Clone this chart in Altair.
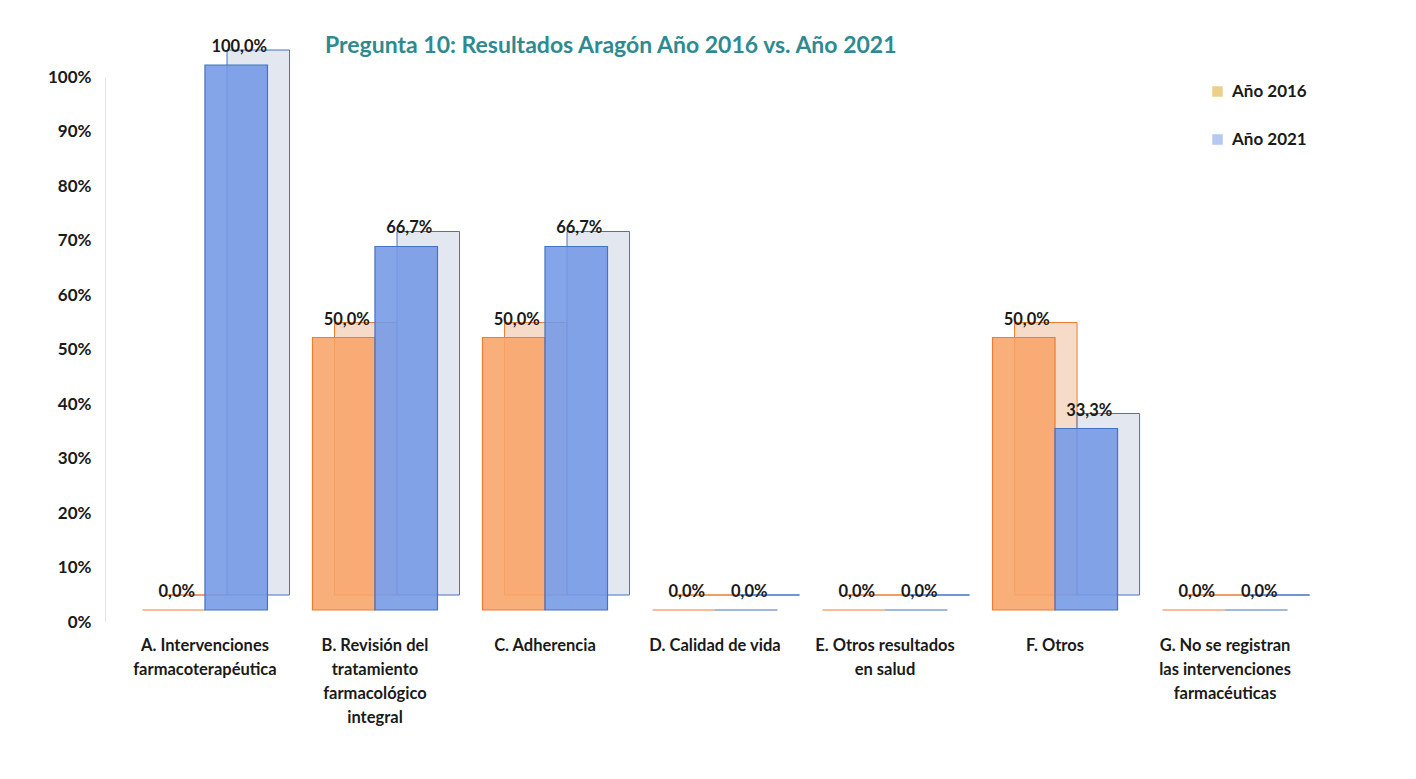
import altair as alt
import pandas as pd

categories = [
    "A. Intervenciones|farmacoterapéutica",
    "B. Revisión del|tratamiento|farmacológico|integral",
    "C. Adherencia",
    "D. Calidad de vida",
    "E. Otros resultados|en salud",
    "F. Otros",
    "G. No se registran|las intervenciones|farmacéuticas",
]
years = ["Año 2016", "Año 2021"]
values_2016 = [0.0, 50.0, 50.0, 0.0, 0.0, 50.0, 0.0]
values_2021 = [100.0, 66.7, 66.7, 0.0, 0.0, 33.3, 0.0]
y_ticks = [0, 10, 20, 30, 40, 50, 60, 70, 80, 90, 100]

rows = []
for c, v in zip(categories, values_2016):
    rows.append({"cat": c, "year": years[0], "value": v})
for c, v in zip(categories, values_2021):
    rows.append({"cat": c, "year": years[1], "value": v})
df = pd.DataFrame(rows)
df["label"] = df["value"].map(lambda v: f"{v:.1f}%".replace(".", ","))

FONT = "Lato"
is16 = "datum.year == 'Año 2016'"

x_enc = alt.X(
    "cat:N",
    sort=categories,
    scale=alt.Scale(paddingInner=0, paddingOuter=0.088),
    axis=alt.Axis(
        title=None, labelAngle=0, domain=False, ticks=False,
        labelExpr="split(datum.value, '|')",
        labelFont=FONT, labelFontSize=16.5, labelFontWeight="bold",
        labelColor="#1a1a1a", labelPadding=15, labelLineHeight=24,
        labelLimit=300,
    ),
)
xo_front = alt.XOffset("year:N", sort=years,
                       scale=alt.Scale(type="band", paddingInner=0,
                                       paddingOuter=0.36, align=0.5))
xo_back = alt.XOffset("year:N", sort=years,
                      scale=alt.Scale(type="band", paddingInner=0,
                                      paddingOuter=0.36, align=0.99))
y_enc = alt.Y(
    "value:Q",
    scale=alt.Scale(domain=[0, 100], nice=False),
    axis=alt.Axis(
        title=None, values=y_ticks, grid=False, ticks=False,
        domainColor="#e4e4e4", labelExpr="datum.value + '%'",
        labelFont=FONT, labelFontSize=17, labelFontWeight="bold",
        labelColor="#1a1a1a", labelPadding=14,
    ),
)

base = alt.Chart(df)

back = base.mark_bar(yOffset=-27, y2Offset=-27, strokeWidth=1).encode(
    x=x_enc, xOffset=xo_back, y=y_enc,
    fill=alt.condition(is16, alt.value("#F6DCC8"), alt.value("#E2E7F0")),
    stroke=alt.condition(is16, alt.value("#ED7D31"), alt.value("#4472C4")),
)

front = base.mark_bar(yOffset=-12, y2Offset=-12, strokeWidth=1.2,
                      fillOpacity=0.88).encode(
    x=x_enc, xOffset=xo_front, y=y_enc,
    fill=alt.condition(is16, alt.value("#F8A468"), alt.value("#7499E6")),
    stroke=alt.condition(is16, alt.value("#ED7D31"), alt.value("#4472C4")),
)

legend_layer = base.mark_square(opacity=0, size=1).encode(
    x=x_enc, xOffset=xo_front, y=y_enc,
    color=alt.Color(
        "year:N", sort=years,
        scale=alt.Scale(domain=years, range=["#EAD08C", "#B4C8F2"]),
        legend=alt.Legend(
            title=None, orient="none", legendX=1104, legendY=6,
            symbolType="square", symbolSize=110, symbolOpacity=1,
            symbolStrokeWidth=0,
            labelFont=FONT, labelFontSize=17, labelFontWeight="bold",
            labelColor="#1a1a1a", rowPadding=30, labelOffset=6,
        ),
    ),
)

labels = base.mark_text(
    dy=-30, dx=3, font=FONT, fontSize=16.5, fontWeight="bold",
    color="#1a1a1a", baseline="middle",
).encode(x=x_enc, xOffset=xo_front, y=y_enc, text="label:N")

chart = alt.layer(back, front, labels, legend_layer).resolve_scale(
    xOffset="independent"
).properties(
    width=1220,
    height=545,
    autosize=alt.AutoSizeParams(type="none"),
    padding={"left": 97, "top": 69, "right": 75, "bottom": 140},
    title=alt.TitleParams(
        "Pregunta 10: Resultados Aragón Año 2016 vs. Año 2021",
        anchor="start", dx=220, offset=-19, frame="group",
        font=FONT, fontSize=23, fontWeight="bold", color="#2F8A90",
    ),
    background="white",
).configure_view(stroke=None)

chart.save("out.html", embed_options={"renderer": "svg", "actions": False})
